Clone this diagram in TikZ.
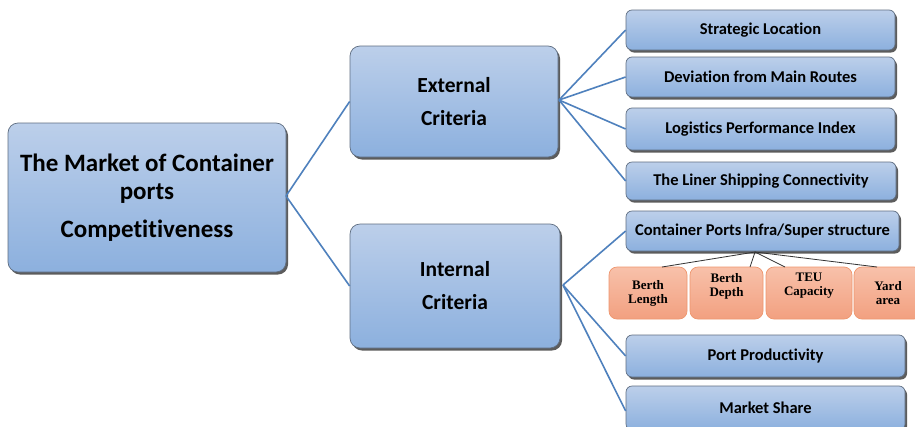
\documentclass[tikz,border=0pt]{standalone}
\usepackage{fontspec}
\setmainfont{Carlito}[Ligatures=NoCommon]
\newfontfamily\timesb{Liberation Serif}
\usetikzlibrary{shadows}
\definecolor{boxtop}{RGB}{188,207,234}
\definecolor{boxbot}{RGB}{140,176,222}
\definecolor{boxline}{RGB}{95,110,130}
\definecolor{linkblue}{RGB}{79,129,189}
\definecolor{ortop}{RGB}{248,193,170}
\definecolor{orbot}{RGB}{242,160,128}
\definecolor{orline}{RGB}{238,150,110}
\tikzset{
  bluebox/.style={draw=boxline, line width=0.7pt, rounded corners=10pt,
    top color=boxtop, bottom color=boxbot, align=center, inner sep=0pt,
    font=\bfseries,
    drop shadow={shadow xshift=2pt, shadow yshift=-2.5pt, fill=black!75, opacity=0.85}},
  leafbox/.style={bluebox, rounded corners=6pt, font=\bfseries\fontsize{16.5}{19}\selectfont},
  orbox/.style={draw=orline, line width=0.7pt, rounded corners=8pt,
    top color=ortop, bottom color=orbot, align=center, inner sep=0pt,
    font=\timesb\bfseries\fontsize{13}{14}\selectfont},
  link/.style={draw=linkblue, line width=1.6pt},
  sublink/.style={draw=black!80, line width=0.8pt}
}
\begin{document}
\begin{tikzpicture}[x=1pt,y=-1pt]
\clip (0,0) rectangle (915,426);
\fill[white] (0,0) rectangle (915,426);

% main concept
\node[bluebox, minimum width=278pt, minimum height=149pt,
  font=\bfseries\fontsize{25}{28}\selectfont] (root) at (147,197.5)
  {The Market of Container\\ports\\[10pt]Competitiveness};

% criteria groups
\node[bluebox, minimum width=208pt, minimum height=111pt,
  font=\bfseries\fontsize{21.5}{33}\selectfont] (ext) at (454,101.5) {External\\Criteria};
\node[bluebox, minimum width=210pt, minimum height=124pt,
  font=\bfseries\fontsize{21.5}{33}\selectfont] (int) at (455,286) {Internal\\Criteria};

% external criteria
\node[leafbox, minimum width=269pt, minimum height=40pt] (c1) at (760.5,30) {Strategic Location};
\node[leafbox, minimum width=269pt, minimum height=40pt] (c2) at (760.5,77) {Deviation from Main Routes};
\node[leafbox, minimum width=269pt, minimum height=42pt] (c3) at (760.5,129) {Logistics Performance Index};
\node[leafbox, minimum width=270pt, minimum height=38pt] (c4) at (761,181) {The Liner Shipping Connectivity};

% internal criteria
\node[leafbox, minimum width=273pt, minimum height=40pt] (d1) at (762.5,231) {Container Ports Infra/Super structure};
\node[leafbox, minimum width=279pt, minimum height=42pt] (d2) at (765.5,356) {Port Productivity};
\node[leafbox, minimum width=279pt, minimum height=44pt] (d3) at (765.5,408) {Market Share};

% infrastructure components
\node[orbox, minimum width=78pt, minimum height=52pt] (e1) at (648,293) {Berth\\Length};
\node[orbox, minimum width=73pt, minimum height=52pt] (e2) at (726.5,293) {Berth\\Depth\\[3pt]};
\node[orbox, minimum width=86pt, minimum height=52pt] (e3) at (809,293) {TEU\\Capacity\\[3pt]};
\node[orbox, minimum width=68pt, minimum height=52pt] (e4) at (888,293) {Yard\\area};

% hubs
\coordinate (rh) at (286,196);
\coordinate (eh) at (559,100);
\coordinate (ih) at (563,285);
\coordinate (dh) at (755,252);

% connectors
\draw[link] (rh) -- (ext.west);
\draw[link] (rh) -- (int.west);
\draw[link] (eh) -- (c1.west);
\draw[link] (eh) -- (c2.west);
\draw[link] (eh) -- (c3.west);
\draw[link] (eh) -- (c4.west);
\draw[link] (ih) -- (d1.west);
\draw[link] (ih) -- (d2.west);
\draw[link] (ih) -- ([yshift=-3pt]d3.west);
\draw[sublink] (dh) -- (662,267);
\draw[sublink] (dh) -- (750,267);
\draw[sublink] (dh) -- (785,267);
\draw[sublink] (dh) -- (877,267);
\end{tikzpicture}
\end{document}
